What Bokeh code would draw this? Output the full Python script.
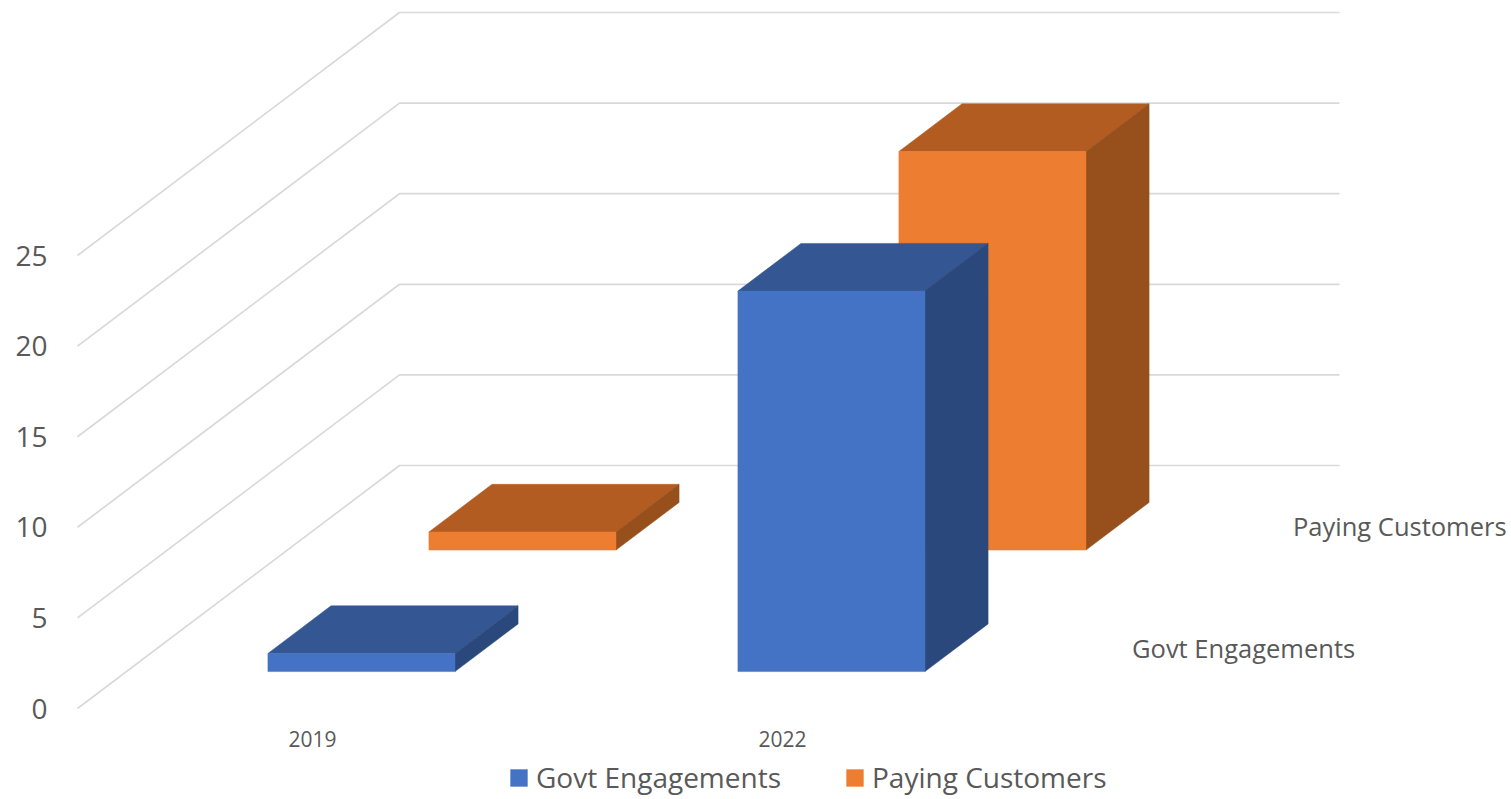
from bokeh.plotting import figure
from bokeh.models import FixedTicker, Legend, LegendItem
from bokeh.core.properties import value
from bokeh.embed import file_html
from bokeh.resources import INLINE

categories = ["2019", "2022"]
series_names = ["Govt Engagements", "Paying Customers"]
govt_engagements = [1, 21]
paying_customers = [1, 22]
value_ticks = [0, 5, 10, 15, 20, 25]

series_values = [govt_engagements, paying_customers]
face_colors = [("#4472C4", "#345793", "#2A487C"), ("#ED7D31", "#B25C22", "#974F1B")]
GRID = "#D9D9D9"
TEXT = "#595959"
FONT = "Open Sans"

# Oblique projection of the 3D chart onto the front plane:
# x is in category widths, y in value units, depth runs 0..1 across the floor.
DX = 322 / 470
DY = 243 / 18.12
BAR_W = 0.398
BAR_D = 0.196


def proj(c, v, d):
    return c + d * DX, v + d * DY


PX_X, PX_Y = 470, 18.12
FRAME_L, FRAME_R, FRAME_T, FRAME_B = 60, 1509, 8, 799
ORIGIN_X, ORIGIN_Y = 77, 708
XAXIS_PX = 722

p = figure(
    width=1511, height=799,
    frame_width=FRAME_R - FRAME_L, frame_height=FRAME_B - FRAME_T,
    x_range=((FRAME_L - ORIGIN_X) / PX_X, (FRAME_R - ORIGIN_X) / PX_X),
    y_range=((ORIGIN_Y - FRAME_B) / PX_Y, (ORIGIN_Y - FRAME_T) / PX_Y),
    output_backend="svg", toolbar_location=None,
    min_border_left=FRAME_L, min_border_right=2, min_border_top=FRAME_T, min_border_bottom=0,
    background_fill_color="white", border_fill_color="white",
)
p.outline_line_color = None
p.grid.visible = False

ax = p.yaxis[0]
ax.ticker = FixedTicker(ticks=value_ticks)
ax.axis_line_color = None
ax.major_tick_line_color = None
ax.minor_tick_line_color = None
ax.major_tick_out = 0
ax.major_label_text_font = FONT
ax.major_label_text_font_size = "28px"
ax.major_label_text_color = TEXT
ax.major_label_standoff = 13

xa = p.xaxis[0]
xa.ticker = FixedTicker(ticks=[i + 0.5 for i in range(len(categories))])
xa.major_label_overrides = {i + 0.5: c for i, c in enumerate(categories)}
xa.fixed_location = (ORIGIN_Y - XAXIS_PX) / PX_Y
xa.axis_line_color = None
xa.major_tick_line_color = None
xa.minor_tick_line_color = None
xa.major_tick_out = 0
xa.major_label_text_font = FONT
xa.major_label_text_font_size = "21px"
xa.major_label_text_color = TEXT
xa.major_label_standoff = 8

# Gridlines: side wall then back wall.
n_cat = len(categories)
for v in value_ticks:
    pts = [proj(0, v, 0), proj(0, v, 1), proj(n_cat, v, 1)]
    p.line([q[0] for q in pts], [q[1] for q in pts], line_color=GRID, line_width=1.7)

# Bars, back series first.
legend_faces = {}
for s in reversed(range(len(series_names))):
    d0 = s / len(series_names) + (0.5 - BAR_D) / 2
    d1 = d0 + BAR_D
    front_col, top_col, side_col = face_colors[s]
    for i, val in enumerate(series_values[s]):
        c0 = i + (1 - BAR_W) / 2
        c1 = c0 + BAR_W
        faces = [
            ([proj(c0, val, d0), proj(c1, val, d0), proj(c1, val, d1), proj(c0, val, d1)], top_col),
            ([proj(c1, 0, d0), proj(c1, val, d0), proj(c1, val, d1), proj(c1, 0, d1)], side_col),
            ([proj(c0, 0, d0), proj(c1, 0, d0), proj(c1, val, d0), proj(c0, val, d0)], front_col),
        ]
        for poly, col in faces:
            r = p.patch([q[0] for q in poly], [q[1] for q in poly],
                        fill_color=col, line_color=col, line_width=0.5)
        legend_faces[s] = r

# Series labels on the depth axis.
for s, name in enumerate(series_names):
    x, y = proj(n_cat, 0, (s + 0.5) / len(series_names))
    p.text([x], [y], text=[name], x_offset=34, y_offset=0,
           text_font=value(FONT), text_font_size="25.5px", text_color=TEXT,
           text_align="left", text_baseline="middle")

legend = Legend(
    items=[LegendItem(label=n, renderers=[legend_faces[s]]) for s, n in enumerate(series_names)],
    orientation="horizontal", location=(448, 3),
    glyph_width=21, glyph_height=21, label_standoff=7, spacing=63,
    label_text_font=FONT, label_text_font_size="28px", label_text_color=TEXT,
    border_line_color=None, background_fill_color="white", margin=0, padding=2,
)
p.add_layout(legend, "center")

open("out.html", "w").write(file_html(p, INLINE))
